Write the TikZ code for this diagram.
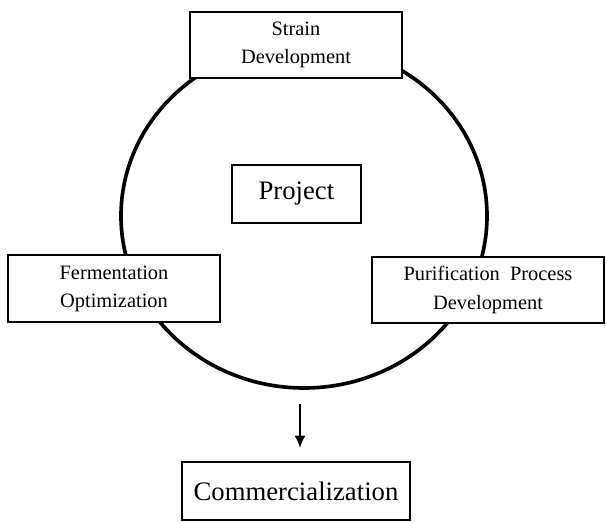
\documentclass[tikz,border=0pt]{standalone}
\usepackage{fontspec}
\setmainfont{Liberation Serif}
\usetikzlibrary{arrows.meta}

\tikzset{
	stage/.style={draw, line width=1.2pt, fill=white, align=center,
		font=\fontsize{14.5}{20}\selectfont},
	goal/.style={draw, line width=1.2pt, fill=white,
		font=\fontsize{19}{22}\selectfont}
}

\begin{document}
\begin{tikzpicture}
		\useasboundingbox (0,0) rectangle (15.175,13.075);
		
		% Project cycle
		\draw[line width=2.6pt] (7.6,7.675) ellipse (4.575 and 4.3);
		
		% Stages on the cycle
		\node[stage, minimum width=5.3cm, minimum height=1.65cm] (strain) at (7.4,11.95) {Strain\\Development};
		\node[stage, minimum width=5.3cm, minimum height=1.675cm] (ferm) at (2.85,5.86) {Fermentation\\Optimization};
		\node[stage, minimum width=5.8cm, minimum height=1.65cm] (purif) at (12.2,5.825) {Purification~~Process\\Development};
		
		% Centre label
		\node[goal, minimum width=3.225cm, minimum height=1.45cm] (project) at (7.41,8.225) {Project};
		
		% Outcome
		\node[goal, minimum width=5.7cm, minimum height=1.45cm] (comm) at (7.4,0.8) {Commercialization};
		\coordinate (out) at (7.5,2.975);
		\coordinate (tip) at ([yshift=0.325cm]out |- comm.north);
		\draw[line width=1.8pt, -{Latex[length=9pt, width=8pt]}] (out) -- (tip);
\end{tikzpicture}
\end{document}
